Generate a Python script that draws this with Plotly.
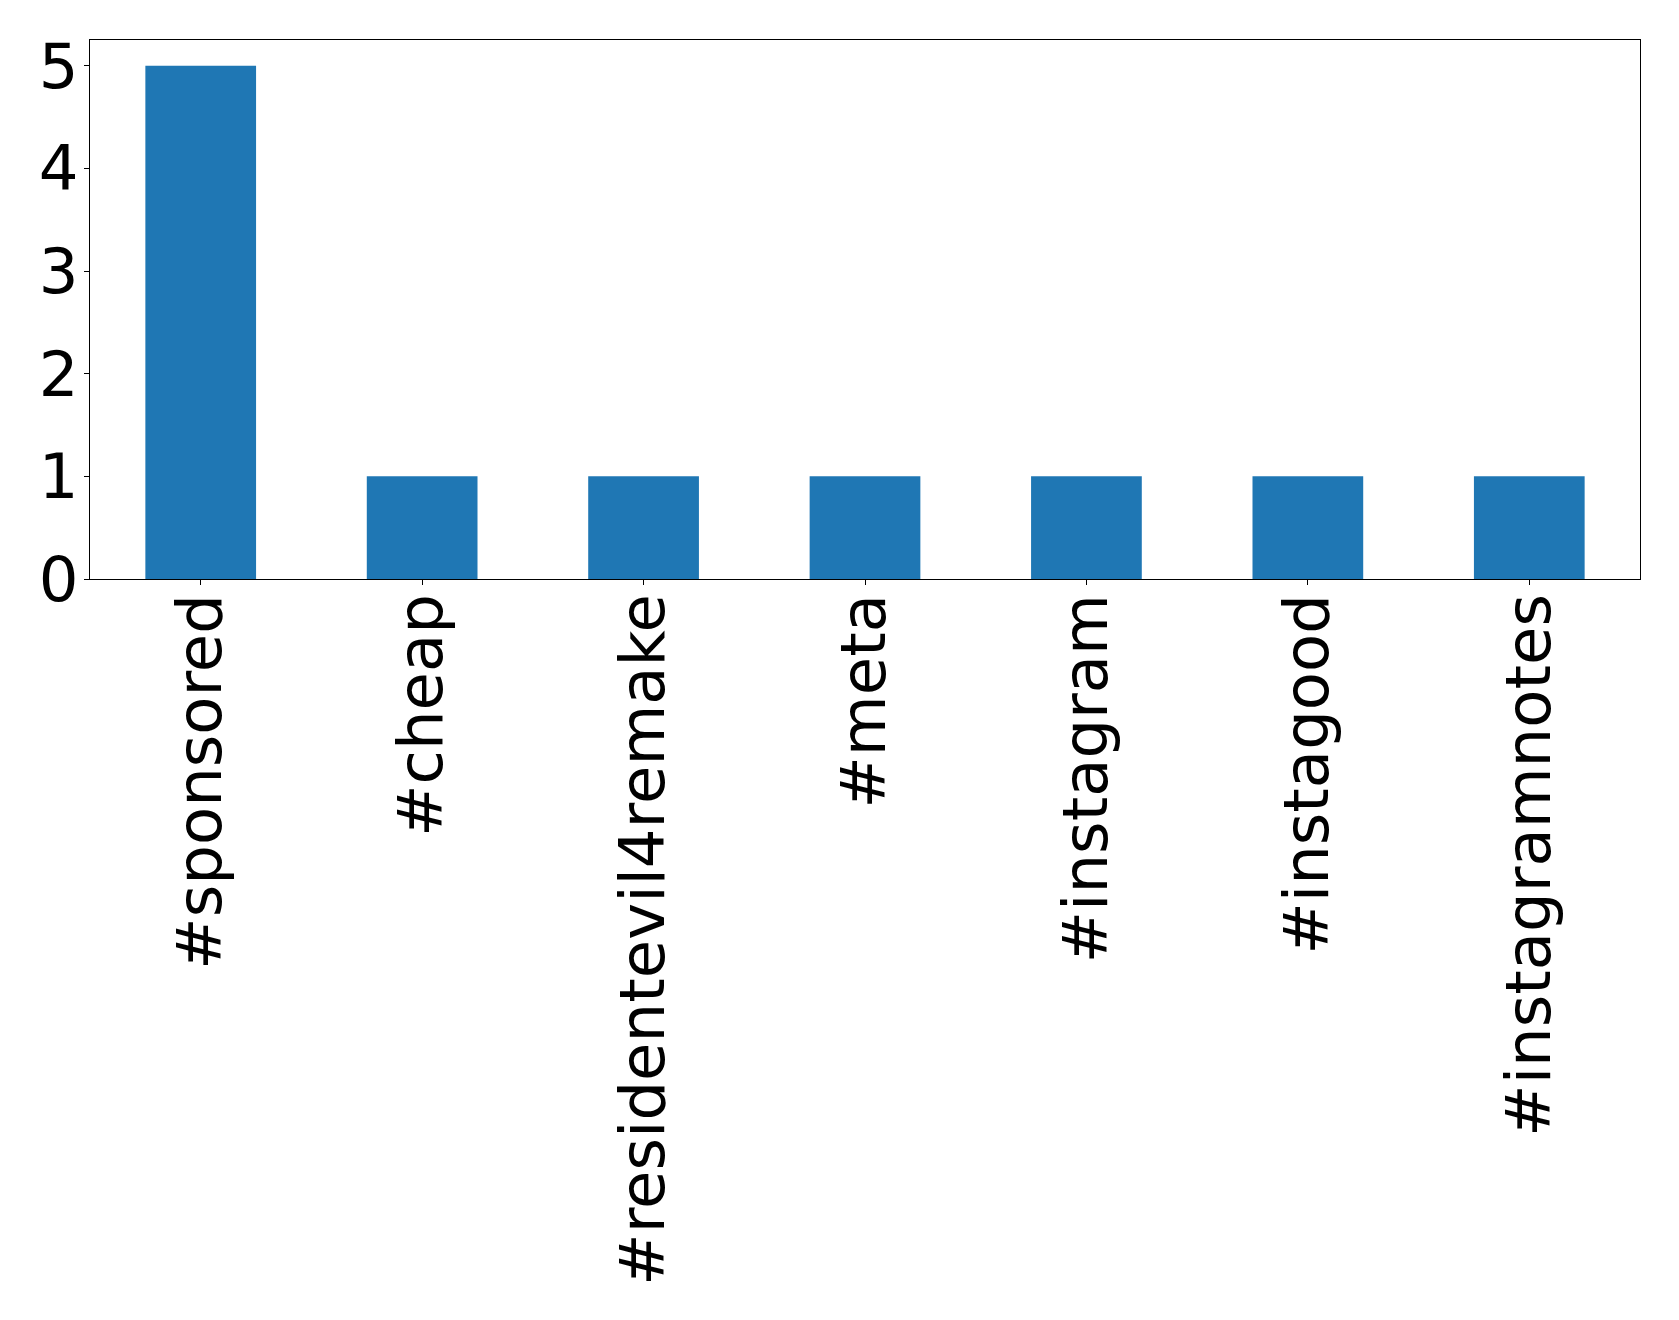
import plotly.graph_objects as go

categories = ["#sponsored", "#cheap", "#residentevil4remake", "#meta", "#instagram", "#instagood", "#instagramnotes"]
counts = [5, 1, 1, 1, 1, 1, 1]
y_ticks = [0, 1, 2, 3, 4, 5]

fig = go.Figure(go.Bar(x=categories, y=counts, marker=dict(color="#1f77b4", line=dict(width=0))))

fig.update_layout(
    width=1671, height=1312,
    margin=dict(l=82, r=39, t=32, b=741, autoexpand=False),
    paper_bgcolor="white", plot_bgcolor="white",
    bargap=0.5, showlegend=False,
    font=dict(family="DejaVu Sans", size=62.5, color="black"),
)
fig.update_xaxes(
    type="category", range=[-0.5, 6.5], tickangle=-90, automargin=False,
    showline=True, linecolor="black", linewidth=1, mirror=True,
    ticks="outside", ticklen=5, tickcolor="black", showgrid=False,
    ticklabelstandoff=-16, tickfont=dict(size=62.5, family="DejaVu Sans", color="black"),
)
fig.update_yaxes(
    range=[0, 5.25], tickvals=y_ticks, automargin=False,
    showline=True, linecolor="black", linewidth=1, mirror=True,
    ticks="outside", ticklen=5, tickcolor="black", showgrid=False, zeroline=False,
    ticklabelstandoff=-7, tickfont=dict(size=62.5, family="DejaVu Sans", color="black"),
)
fig.write_html("out.html")
